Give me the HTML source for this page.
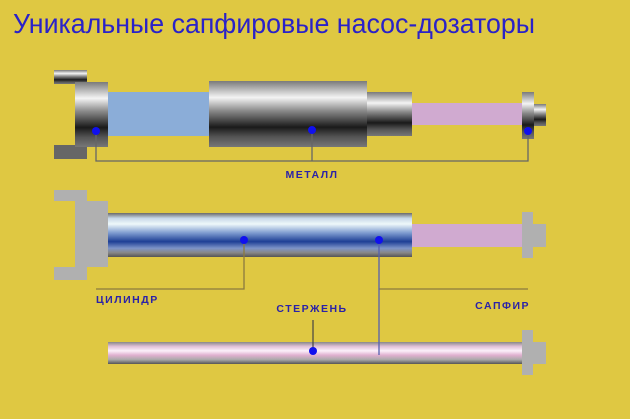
<!DOCTYPE html>
<html><head><meta charset="utf-8"><style>
html,body{margin:0;padding:0;background:#dfc842;}
svg{display:block}
text{font-family:"Liberation Sans",sans-serif;}
</style></head><body>
<svg width="630" height="419" viewBox="0 0 630 419" xmlns="http://www.w3.org/2000/svg">
<defs>
<linearGradient id="m" x1="0" y1="0" x2="0" y2="1">
<stop offset="0" stop-color="#7a7a7a"/><stop offset="0.25" stop-color="#f4f4f4"/><stop offset="0.45" stop-color="#8a8a8a"/><stop offset="0.7" stop-color="#1a1a1a"/><stop offset="0.85" stop-color="#555"/><stop offset="1" stop-color="#777"/>
</linearGradient>
<linearGradient id="c" x1="0" y1="0" x2="0" y2="1">
<stop offset="0" stop-color="#6a6a6a"/><stop offset="0.12" stop-color="#c8d8e8"/><stop offset="0.25" stop-color="#eef8fa"/><stop offset="0.45" stop-color="#7f9cd0"/><stop offset="0.65" stop-color="#1e3f95"/><stop offset="0.8" stop-color="#7d94c8"/><stop offset="0.9" stop-color="#888"/><stop offset="1" stop-color="#555"/>
</linearGradient>
<linearGradient id="r" x1="0" y1="0" x2="0" y2="1">
<stop offset="0" stop-color="#888"/><stop offset="0.2" stop-color="#e0c0d8"/><stop offset="0.4" stop-color="#fbf0fa"/><stop offset="0.6" stop-color="#e0b0d0"/><stop offset="0.8" stop-color="#aaa"/><stop offset="1" stop-color="#555"/>
</linearGradient>
</defs>
<text x="13" y="33" font-size="28" fill="#2a22c8" textLength="522" lengthAdjust="spacingAndGlyphs">Уникальные сапфировые насос-дозаторы</text>

<!-- row 1 -->
<rect x="54" y="70" width="33" height="14" fill="url(#m)"/>
<rect x="54" y="145" width="33" height="14" fill="#666"/>
<rect x="75" y="82" width="33" height="65" fill="url(#m)"/>
<rect x="108" y="92" width="101" height="44" fill="#8badd8"/>
<rect x="209" y="81" width="158" height="66" fill="url(#m)"/>
<rect x="367" y="92" width="45" height="44" fill="url(#m)"/>
<rect x="412" y="103" width="110" height="22" fill="#d0aad0"/>
<rect x="522" y="92" width="12" height="47" fill="url(#m)"/>
<rect x="534" y="104" width="12" height="22" fill="url(#m)"/>
<polyline points="96,131 96,161 528,161 528,131" fill="none" stroke="#666" stroke-width="1.3"/>
<line x1="312" y1="130" x2="312" y2="161" stroke="#666" stroke-width="1.3"/>
<circle cx="96" cy="131" r="4" fill="#1010ee"/><circle cx="312" cy="130" r="4" fill="#1010ee"/><circle cx="528" cy="131" r="4" fill="#1010ee"/>
<text x="312" y="178" font-size="10.5" font-weight="bold" fill="#2a22a8" text-anchor="middle" letter-spacing="1.5">МЕТАЛЛ</text>

<!-- row 2 -->
<path d="M54 190 H87 V201 H108 V267 H87 V280 H54 V267 H75 V201 H54 Z" fill="#b0b0b0"/>
<rect x="108" y="213" width="304" height="44" fill="url(#c)"/>
<rect x="412" y="224" width="110" height="23" fill="#d0aad0"/>
<rect x="522" y="212" width="11" height="46" fill="#b0b0b0"/>
<rect x="533" y="224" width="13" height="23" fill="#b0b0b0"/>
<polyline points="244,240 244,289 96,289" fill="none" stroke="#8a7a40" stroke-width="1.3"/>
<line x1="379" y1="289" x2="528" y2="289" stroke="#8a7a40" stroke-width="1.3"/>
<line x1="379" y1="240" x2="379" y2="355" stroke="#5560b0" stroke-width="1.3"/>
<circle cx="244" cy="240" r="4" fill="#1010ee"/><circle cx="379" cy="240" r="4" fill="#1010ee"/>
<text x="96" y="303" font-size="10.5" font-weight="bold" fill="#2a22a8" letter-spacing="1.5">ЦИЛИНДР</text>
<text x="530" y="309" font-size="10.5" font-weight="bold" fill="#2a22a8" text-anchor="end" letter-spacing="1.5">САПФИР</text>
<text x="312" y="312" font-size="10.5" font-weight="bold" fill="#2a22a8" text-anchor="middle" letter-spacing="1.5">СТЕРЖЕНЬ</text>

<!-- row 3 -->
<rect x="108" y="342" width="414" height="22" fill="url(#r)"/>
<line x1="379" y1="342" x2="379" y2="355" stroke="#5560b0" stroke-width="1.3"/>
<rect x="522" y="330" width="11" height="45" fill="#b0b0b0"/>
<rect x="533" y="342" width="13" height="22" fill="#b0b0b0"/>
<line x1="313" y1="320" x2="313" y2="351" stroke="#444" stroke-width="1.2"/>
<circle cx="313" cy="351" r="4" fill="#1010ee"/>
</svg>
</body></html>
